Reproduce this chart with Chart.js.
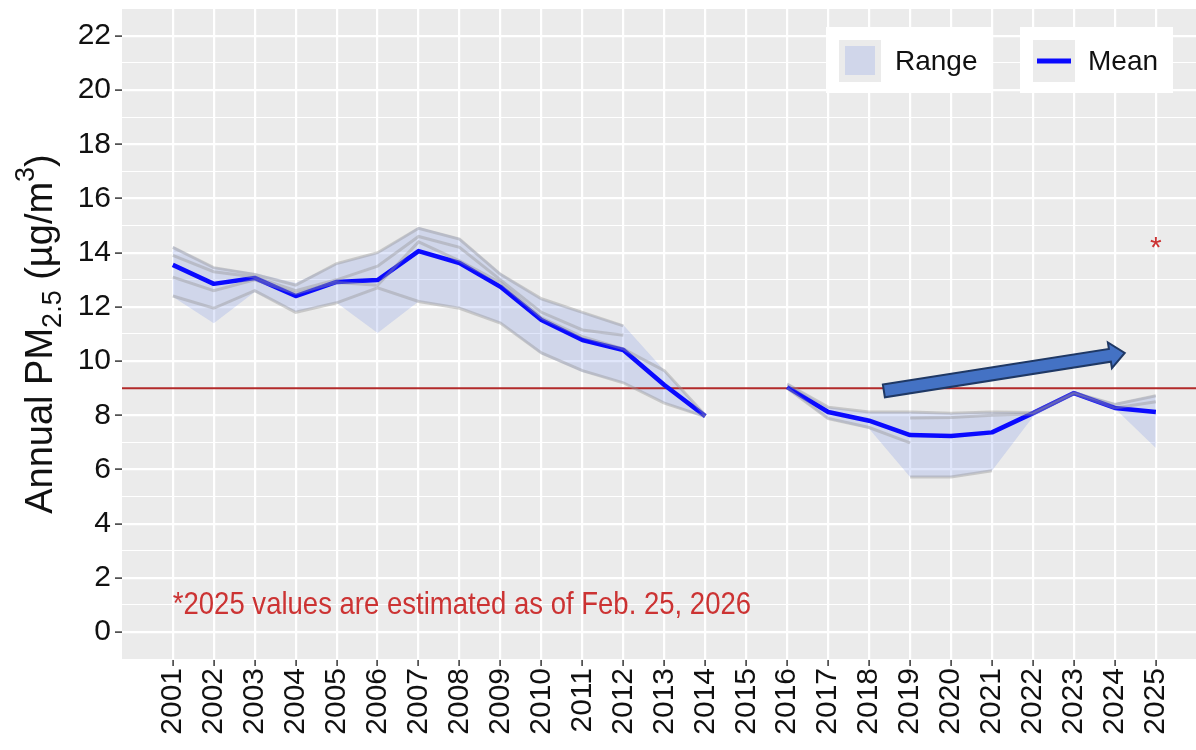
<!DOCTYPE html>
<html>
<head>
<meta charset="utf-8">
<script src="https://cdn.jsdelivr.net/npm/chart.js@4.4.1/dist/chart.umd.min.js"></script>
<style>
  html, body { margin: 0; padding: 0; background: #fff; }
  #wrap { width: 1196px; height: 750px; position: relative; }
</style>
</head>
<body>
<div id="wrap"><canvas id="graph"></canvas></div>
<script>
// years on the x axis
var years = [2001,2002,2003,2004,2005,2006,2007,2008,2009,2010,2011,2012,2013,2014,2015,2016,2017,2018,2019,2020,2021,2022,2023,2024,2025];
// mean of all monitors
var meanPM = [13.55,12.85,13.07,12.40,12.92,12.99,14.06,13.62,12.74,11.52,10.78,10.41,9.12,7.97,null,9.04,8.12,7.80,7.27,7.24,7.37,8.08,8.82,8.27,8.12];
// min / max across monitors (ribbon)
var rangeLow  = [12.37,11.40,12.55,11.81,12.15,11.04,12.20,11.96,11.40,10.25,9.60,9.19,8.45,7.90,null,8.97,7.85,7.50,5.72,5.72,5.95,7.95,8.78,8.25,6.79];
var rangeHigh = [14.25,13.47,13.25,12.88,13.60,14.00,14.95,14.54,13.25,12.30,11.80,11.33,9.65,8.00,null,9.20,8.30,8.12,8.12,8.08,8.12,8.12,8.86,8.45,8.75];
// individual monitor sites (grey lines)
var site1 = [14.20,13.45,13.20,12.80,13.60,14.00,14.90,14.50,13.20,12.30,11.80,11.30,null,null,null,null,null,null,null,null,null,null,null,null,null];
var site2 = [13.90,13.30,13.10,12.60,13.00,13.50,14.60,14.20,13.00,11.80,11.15,10.95,null,null,null,null,null,null,null,null,null,null,null,null,null];
var site3 = [13.10,12.60,13.00,12.50,12.90,12.80,14.40,13.70,12.90,11.60,10.90,10.45,9.65,8.00,null,null,null,null,null,null,null,null,null,null,null];
var site4 = [12.40,11.95,12.60,11.80,12.15,12.70,12.20,11.95,11.40,10.30,9.65,9.20,8.45,7.95,null,null,null,null,null,null,null,null,null,null,null];
var site5 = [null,null,null,null,null,null,null,null,null,null,null,null,null,null,null,9.15,8.30,8.12,8.12,8.08,8.12,8.10,8.84,8.40,8.72];
var site6 = [null,null,null,null,null,null,null,null,null,null,null,null,null,null,null,9.00,7.88,7.55,6.98,null,null,null,null,null,null];
var site7 = [null,null,null,null,null,null,null,null,null,null,null,null,null,null,null,null,null,null,5.72,5.72,5.95,null,null,null,null];
var site8 = [null,null,null,null,null,null,null,null,null,null,null,null,null,null,null,null,null,null,7.90,7.92,8.00,8.05,8.80,8.27,8.50];
var sites = [site1, site2, site3, site4, site5, site6, site7, site8];

var standard = 9;               // red reference line
var xMin = 1999.76, xMax = 2025.98;
var yMin = -1.03, yMax = 23.03;
var arrowFrom = [2018.36, 8.9];
var arrowTo = [2024.24, 10.3];
var starAt = [2025, 14.3];
var noteAt = [2001, 1.0];
var noteText = "*2025 values are estimated as of Feb. 25, 2026";

var FONT = "'Liberation Sans', Arial, sans-serif";
var bandColor = "rgba(100,130,230,0.2)";

function pts(arr) { return years.map((yr, i) => ({ x: yr, y: arr[i] })); }

var datasets = sites.map(s => ({
  data: pts(s), borderColor: "rgba(150,150,150,0.42)", borderWidth: 3,
  pointRadius: 0, fill: false, spanGaps: false, tension: 0
}));
datasets.push({
  label: "Mean", data: pts(meanPM), borderColor: "#0a0aff", borderWidth: 4.5,
  pointRadius: 0, fill: false, spanGaps: false, borderJoinStyle: "round"
});
datasets.push({
  label: "Range", data: pts(rangeHigh), borderColor: "rgba(0,0,0,0)", borderWidth: 0,
  pointRadius: 0, backgroundColor: bandColor, fill: { target: "+1" }, spanGaps: false
});
datasets.push({
  label: "RangeLow", data: pts(rangeLow), borderColor: "rgba(0,0,0,0)", borderWidth: 0,
  pointRadius: 0, fill: false, spanGaps: false
});

var panelBg = {
  id: "panelBg",
  beforeDraw(chart) {
    const a = chart.chartArea, c = chart.ctx;
    c.save(); c.fillStyle = "#EBEBEB";
    c.fillRect(a.left, a.top, a.right - a.left, a.bottom - a.top);
    c.restore();
  }
};

// red standard line, under the mean line
var refLine = {
  id: "refLine",
  beforeDatasetDraw(chart, args) {
    if (chart.data.datasets[args.index].label !== "Mean") return;
    const c = chart.ctx, a = chart.chartArea, y = chart.scales.y.getPixelForValue(standard);
    c.save(); c.strokeStyle = "#B22A2A"; c.lineWidth = 2;
    c.beginPath(); c.moveTo(a.left, y); c.lineTo(a.right, y); c.stroke();
    c.restore();
  }
};

var extras = {
  id: "extras",
  afterDraw(chart) {
    const c = chart.ctx, xs = chart.scales.x, ys = chart.scales.y, a = chart.chartArea;
    // arrow
    const x1 = xs.getPixelForValue(arrowFrom[0]), y1 = ys.getPixelForValue(arrowFrom[1]);
    const x2 = xs.getPixelForValue(arrowTo[0]), y2 = ys.getPixelForValue(arrowTo[1]);
    const L = Math.hypot(x2 - x1, y2 - y1), ang = Math.atan2(y2 - y1, x2 - x1);
    const hw = 6.5, hh = 13, hl = 15;
    c.save();
    c.translate(x1, y1); c.rotate(ang);
    c.beginPath();
    c.moveTo(0, -hw); c.lineTo(L - hl, -hw); c.lineTo(L - hl, -hh); c.lineTo(L, 0);
    c.lineTo(L - hl, hh); c.lineTo(L - hl, hw); c.lineTo(0, hw); c.closePath();
    c.fillStyle = "#4472C4"; c.fill();
    c.lineWidth = 2; c.strokeStyle = "#1F3864"; c.lineJoin = "miter"; c.stroke();
    c.restore();

    // asterisk
    c.save();
    c.fillStyle = "#CC3333"; c.font = "30px " + FONT;
    c.textAlign = "center"; c.textBaseline = "middle";
    c.fillText("*", xs.getPixelForValue(starAt[0]), ys.getPixelForValue(starAt[1]) + 4);
    c.restore();

    // note (narrow font look)
    c.save();
    c.fillStyle = "#CC3333"; c.font = "32px " + FONT;
    c.textAlign = "left"; c.textBaseline = "middle";
    c.translate(xs.getPixelForValue(noteAt[0]), ys.getPixelForValue(noteAt[1]));
    c.scale(0.86, 1);
    c.fillText(noteText, 0, 0);
    c.restore();

    // legend
    c.save();
    c.fillStyle = "#fff";
    c.fillRect(826, 27, 166, 66);
    c.fillRect(1020, 27, 153, 66);
    c.fillStyle = "#EBEBEB";
    c.fillRect(839, 40, 42, 42);
    c.fillRect(1033, 40, 42, 42);
    c.fillStyle = bandColor;
    c.fillRect(845, 46, 30, 29);
    c.strokeStyle = "#0a0aff"; c.lineWidth = 5;
    c.beginPath(); c.moveTo(1037, 61); c.lineTo(1071, 61); c.stroke();
    c.fillStyle = "#111"; c.font = "28px " + FONT; c.textBaseline = "middle"; c.textAlign = "left";
    c.fillText("Range", 895, 62);
    c.fillText("Mean", 1088, 62);
    c.restore();

    // y axis title with subscript / superscript
    const parts = [["Annual PM", 0, 1], ["2.5", 9, 0.72], [" (\u00b5g/m", 0, 1], ["3", -18, 0.72], [")", 0, 1]];
    const fs = 38;
    c.save();
    c.fillStyle = "#111"; c.textBaseline = "alphabetic"; c.textAlign = "left";
    let total = 0;
    parts.forEach(p => { c.font = Math.round(fs * p[2]) + "px " + FONT; p.push(c.measureText(p[0]).width); total += p[3]; });
    c.translate(52, (a.top + a.bottom) / 2);
    c.rotate(-Math.PI / 2);
    let px = -total / 2;
    parts.forEach(p => {
      c.font = Math.round(fs * p[2]) + "px " + FONT;
      c.fillText(p[0], px, p[1]);
      px += p[3];
    });
    c.restore();
  }
};

const graph = new Chart("graph", {
  type: "line",
  data: { datasets: datasets },
  options: {
    responsive: true,
    maintainAspectRatio: false,
    animation: false,
    layout: { padding: { top: 8, right: 0, left: 0, bottom: 0 } },
    plugins: { legend: { display: false }, tooltip: { enabled: false } },
    scales: {
      x: {
        type: "linear", min: xMin, max: xMax,
        border: { display: false },
        grid: { color: "#fff", lineWidth: 2.2, tickLength: 6, tickColor: "#333", tickWidth: 1.5 },
        afterBuildTicks: s => { s.ticks = years.map(v => ({ value: v })); },
        afterFit: s => { s.height = 90; s.paddingLeft = 0; s.paddingRight = 0; },
        ticks: {
          autoSkip: false, minRotation: 90, maxRotation: 90, padding: 2,
          color: "#111", font: { family: FONT, size: 30 },
          callback: v => String(v)
        }
      },
      y: {
        type: "linear", min: yMin, max: yMax,
        border: { display: false },
        grid: {
          color: "#fff",
          lineWidth: ctx => (ctx.tick && ctx.tick.value % 2 === 0 ? 2.2 : 1.1),
          tickLength: 7,
          tickColor: ctx => (ctx.tick && ctx.tick.value % 2 === 0 && ctx.tick.value >= 0 ? "#333" : "rgba(0,0,0,0)"),
          tickWidth: 1.5
        },
        afterBuildTicks: s => {
          const t = [];
          for (let v = -1; v <= 23; v++) t.push({ value: v });
          s.ticks = t;
        },
        afterFit: s => { s.width = 122; s.paddingTop = 0; s.paddingBottom = 0; },
        ticks: {
          autoSkip: false, padding: 4, color: "#111",
          font: { family: FONT, size: 30 },
          callback: v => (v % 2 === 0 && v >= 0 && v <= 22 ? String(v) : "")
        }
      }
    }
  },
  plugins: [panelBg, refLine, extras]
});
</script>
</body>
</html>
